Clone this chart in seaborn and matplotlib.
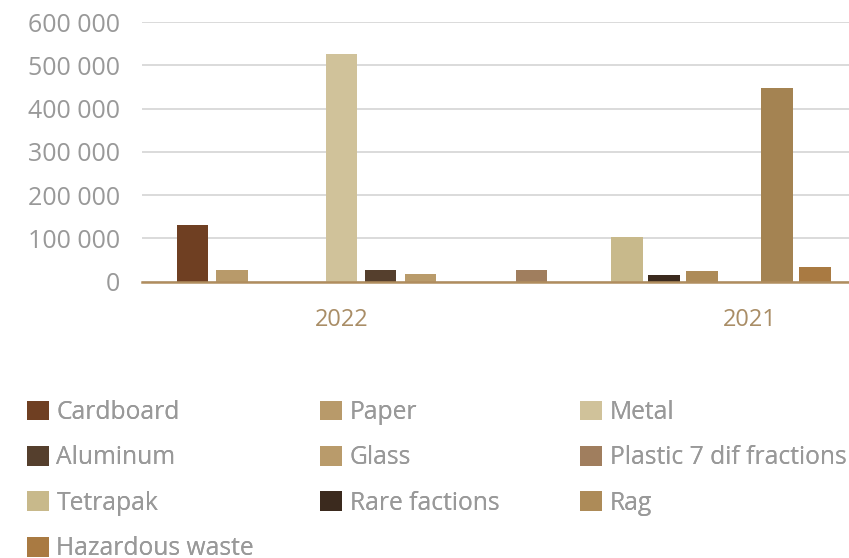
import matplotlib
matplotlib.use("Agg")
import matplotlib.pyplot as plt
from matplotlib.patches import Patch
from matplotlib.ticker import FuncFormatter, FixedLocator
import seaborn as sns
import pandas as pd

# ---- data -------------------------------------------------------------
materials = ["Cardboard", "Paper", "Metal", "Aluminum", "Glass",
             "Plastic 7 dif fractions", "Tetrapak", "Rare factions", "Rag",
             "Other", "Hazardous waste"]
values = [131000, 26000, 527000, 26000, 17500, 26000, 103000, 14500, 24500,
          448000, 33500]
# layout slots of the bars along the x axis (as laid out in the original)
slots = [0.0, 1.0, 3.80, 4.80, 5.82, 8.65, 11.08, 12.02, 12.99, 14.92, 15.88]
year_labels = ["2022", "2021"]
year_slots = [3.81, 14.22]
colors = ["#6f3f22", "#b89a6a", "#d0c29a", "#553f2d", "#b99b6b",
          "#a07e5e", "#c8b98b", "#3b2a1e", "#ad8b58", "#a48352", "#a97a42"]
legend_cols = [["Cardboard", "Aluminum", "Tetrapak", "Hazardous waste"],
               ["Paper", "Glass", "Rare factions"],
               ["Metal", "Plastic 7 dif fractions", "Rag"]]

df = pd.DataFrame({"material": materials, "value": values, "slot": slots})
palette = dict(zip(materials, colors))

# ---- figure -----------------------------------------------------------
sns.set_theme(style="white")
plt.rcParams["font.family"] = ["Open Sans", "DejaVu Sans"]

W, H = 849, 558
fig = plt.figure(figsize=(W / 100, H / 100), dpi=100)
ax = fig.add_axes([142 / W, 1 - 281.5 / H, 707 / W, (281.5 - 22.3) / H])

sns.barplot(data=df, x="slot", y="value", hue="material", palette=palette,
            native_scale=True, dodge=False, width=0.86, saturation=1,
            legend=False, ax=ax, edgecolor="none")

ax.set_xlim(-1.288, 16.748)
ax.set_ylim(0, 600000)
ax.yaxis.set_major_locator(FixedLocator(range(0, 600001, 100000)))
ax.yaxis.set_major_formatter(
    FuncFormatter(lambda v, p: f"{int(v):,}".replace(",", " ")))
ax.set_xticks(year_slots)
ax.set_xticklabels(year_labels)
ax.set_xlabel("")
ax.set_ylabel("")

ax.grid(axis="y", color="#d8d8d8", linewidth=1.3)
ax.grid(axis="x", visible=False)
ax.set_axisbelow(True)
for s in ["top", "right", "left"]:
    ax.spines[s].set_visible(False)
ax.spines["bottom"].set_color("#b08d5e")
ax.spines["bottom"].set_linewidth(1.8)
ax.spines["bottom"].set_zorder(5)

ax.tick_params(axis="y", length=0, pad=16, labelsize=18, labelcolor="#999999")
ax.tick_params(axis="x", length=0, pad=19, labelsize=17, labelcolor="#a98d66")

# ---- legend (three fixed columns) --------------------------------------
col_x = [27, 320, 580]
for cx, names in zip(col_x, legend_cols):
    handles = [Patch(facecolor=palette[n], edgecolor="none") for n in names]
    leg = fig.legend(handles, names, loc="upper left",
                     bbox_to_anchor=(cx / W, 1 - 400 / H),
                     frameon=False, fontsize=17.7, borderpad=0,
                     borderaxespad=0, handlelength=0.9, handleheight=0.85,
                     handletextpad=0.3, labelspacing=0.83,
                     labelcolor="#999999")
    fig.add_artist(leg)

fig.savefig("out.png", dpi=100)
